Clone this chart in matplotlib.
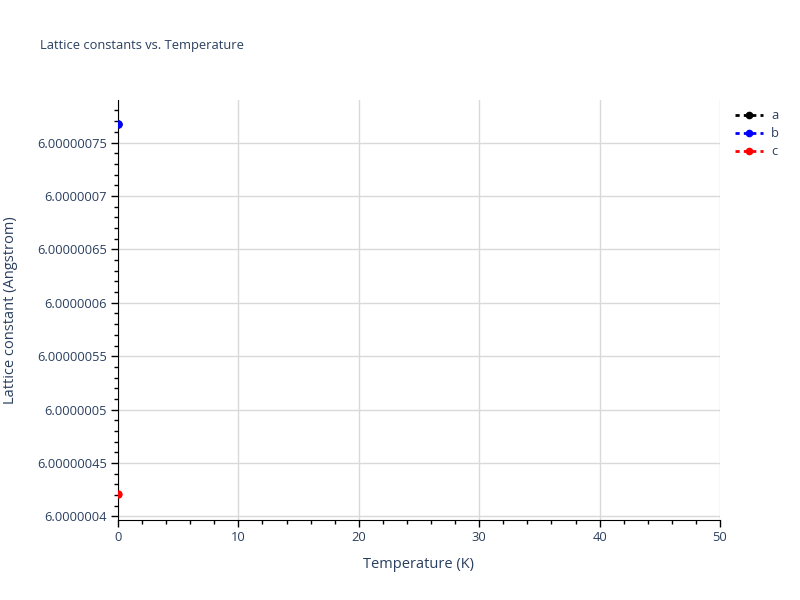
import matplotlib
matplotlib.use("Agg")
from matplotlib import pyplot as plt
from matplotlib.ticker import MultipleLocator, FuncFormatter

# data
temperature = [0.0]
lattice_a = [6.000000767]
lattice_b = [6.000000767]
lattice_c = [6.000000421]

series_names = ["a", "b", "c"]
series_colors = ["black", "blue", "red"]

text_color = "#2a3f5f"
plt.rcParams['font.family'] = ['Open Sans', 'DejaVu Sans']

fig = plt.figure(figsize=(8, 6), dpi=100)
ax = fig.add_axes([118 / 800, 80 / 600, 602 / 800, 420 / 600])

for vals, name, col in zip([lattice_a, lattice_b, lattice_c], series_names, series_colors):
    ax.plot(temperature, vals, linestyle=(0, (1.5, 1.5)), color=col, marker="o",
            markersize=5, linewidth=2, label=name, zorder=3)

ax.set_xlim(0, 50)
ax.set_ylim(6.0000003967, 6.0000007898)

ax.xaxis.set_major_locator(MultipleLocator(10))
ax.xaxis.set_minor_locator(MultipleLocator(2))
ax.yaxis.set_major_locator(MultipleLocator(5e-8))
ax.yaxis.set_minor_locator(MultipleLocator(1e-8))


def fmt_y(v, pos):
    s = "%.8f" % v
    s = s.rstrip("0").rstrip(".")
    return s


ax.yaxis.set_major_formatter(FuncFormatter(fmt_y))
ax.xaxis.set_major_formatter(FuncFormatter(lambda v, p: "%d" % round(v)))

ax.grid(True, which="major", color="#d9d9d9", linewidth=1)
ax.set_axisbelow(True)

for side in ["top", "right"]:
    ax.spines[side].set_visible(False)
ax.spines["left"].set_color("black")
ax.spines["bottom"].set_color("black")

ax.tick_params(which="major", direction="out", length=5, width=1, color="black",
               labelsize=9.3, labelcolor=text_color, pad=3)
ax.tick_params(which="minor", direction="out", length=3, width=1, color="black")

ax.set_xlabel("Temperature (K)", fontsize=10.5, color=text_color, labelpad=9.5)
ax.set_ylabel("Lattice constant (Angstrom)", fontsize=10.5, color=text_color, labelpad=14)

fig.text(40 / 800, 1 - 46 / 600, "Lattice constants vs. Temperature", fontsize=9.3,
         color=text_color, va="center", ha="left")

leg = ax.legend(loc="upper left", bbox_to_anchor=(1.01, 1.0), frameon=False,
                fontsize=9.3, labelcolor=text_color, handlelength=2.2,
                handletextpad=0.6, labelspacing=0.4, borderaxespad=0.3,
                markerscale=0.9)

fig.savefig("out.png", dpi=100)
